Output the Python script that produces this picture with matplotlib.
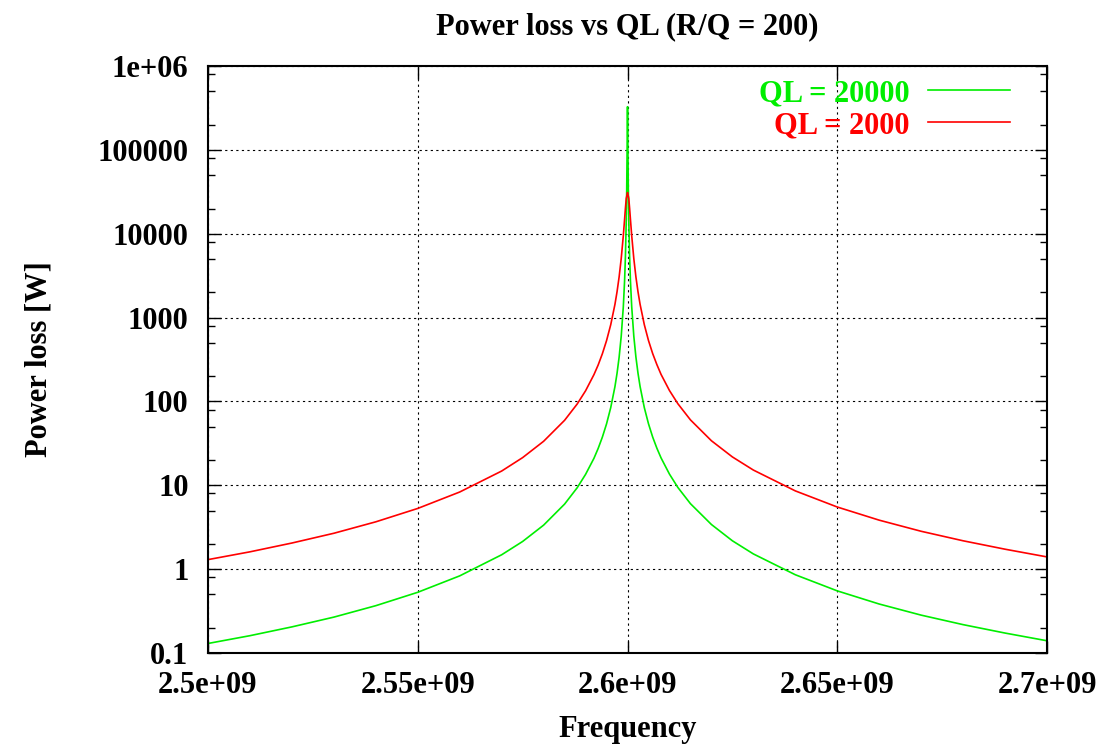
import numpy as np
import matplotlib
matplotlib.use("Agg")
import matplotlib.pyplot as plt
from matplotlib.ticker import LogLocator, FixedLocator, NullFormatter

# offsets from 2.6 GHz [MHz]
offset_mhz = [-100, -90, -80, -70, -60, -50, -40, -30, -25, -20, -15, -12, -10, -8, -7, -6, -5, -4,
              -3, -2.5, -2, -1.5, -1, -0.7, -0.5, -0.3, -0.2, -0.1, -0.05, 0,
              0.05, 0.1, 0.2, 0.3, 0.5, 0.7, 1, 1.5, 2, 2.5, 3,
              4, 5, 6, 7, 8, 10, 12, 15, 20, 25, 30, 40, 50, 60, 70, 80, 90, 100]

# Power loss [W], QL = 2000
p_ql2000 = [1.30, 1.61, 2.05, 2.68, 3.67, 5.30, 8.32, 14.8, 21.4, 33.5, 59.6, 93.2, 134, 209, 272, 370, 531, 823,
            1435, 2027, 3056, 5060, 9500, 14800, 20100, 26400, 27800, 29600, 30800, 31000,
            30800, 29600, 27800, 26400, 20100, 14800, 9500, 5060, 3060, 2030, 1437,
            825, 533, 372, 275, 210, 135, 94.0, 60.3, 34.0, 21.8, 15.2, 8.58, 5.51, 3.84, 2.83, 2.18, 1.73, 1.40]

# Power loss [W], QL = 20000
p_ql20000 = [0.130, 0.161, 0.205, 0.268, 0.367, 0.530, 0.832, 1.485, 2.14, 3.35, 5.97, 9.35, 13.5, 21.0, 27.5, 37.5, 54.0, 84.5,
             150, 216, 337, 600, 1347, 2735, 5310, 14350, 30500, 95000, 201000, 327000,
             201000, 95000, 30600, 14400, 5320, 2740, 1350, 601, 339, 217, 150.5,
             84.6, 54.2, 37.6, 27.7, 21.2, 13.6, 9.43, 6.04, 3.41, 2.18, 1.52, 0.858, 0.551, 0.384, 0.283, 0.218, 0.173, 0.140]

x_ticks = [2.5e9, 2.55e9, 2.6e9, 2.65e9, 2.7e9]
x_ticklabels = ["2.5e+09", "2.55e+09", "2.6e+09", "2.65e+09", "2.7e+09"]
y_ticks = [0.1, 1, 10, 100, 1000, 10000, 100000, 1e6]
y_ticklabels = ["0.1", "1", "10", "100", "1000", "10000", "100000", "1e+06"]

freq = 2.6e9 + np.array(offset_mhz) * 1e6

plt.rcParams["font.family"] = "Liberation Serif"
plt.rcParams["font.weight"] = "bold"

fig = plt.figure(figsize=(11.04, 7.47), dpi=100)
ax = fig.add_axes([0.1884, 0.1258, 0.76, 0.7858])

ax.plot(freq, p_ql20000, color="#00ee00", lw=1.2, label="QL = 20000")
ax.plot(freq, p_ql2000, color="#ff0000", lw=1.2, label="QL = 2000")

ax.set_yscale("log")
ax.set_xlim(2.5e9, 2.7e9)
ax.set_ylim(0.1, 1e6)

ax.xaxis.set_major_locator(FixedLocator(x_ticks))
ax.set_xticklabels(x_ticklabels)
ax.yaxis.set_major_locator(FixedLocator(y_ticks))
ax.set_yticklabels(y_ticklabels)
ax.yaxis.set_minor_locator(LogLocator(base=10, subs=(2, 5, 8), numticks=20))
ax.yaxis.set_minor_formatter(NullFormatter())

ax.tick_params(which="both", direction="in", top=True, right=True, width=1.0)
ax.tick_params(which="major", length=9)
ax.tick_params(which="minor", length=5)
ax.tick_params(axis="y", labelsize=22, pad=14)
ax.tick_params(axis="x", labelsize=22, pad=13)
for s in ax.spines.values():
    s.set_linewidth(1.5)

ax.grid(True, which="major", color="black", linestyle=(0, (2, 3)), linewidth=0.8)

ax.set_title("Power loss vs QL (R/Q = 200)", fontsize=22, fontweight="bold", pad=23)
ax.set_xlabel("Frequency", fontsize=22, fontweight="bold", labelpad=11)
ax.set_ylabel("Power loss [W]", fontsize=22, fontweight="bold", labelpad=32)

ax.legend(loc="upper right", bbox_to_anchor=(0.978, 1.009), frameon=False, markerfirst=False,
          labelcolor="linecolor", fontsize=22, handlelength=2.7, handletextpad=0.6,
          labelspacing=0.1, borderaxespad=0.2)

fig.savefig("out.png", dpi=100)
